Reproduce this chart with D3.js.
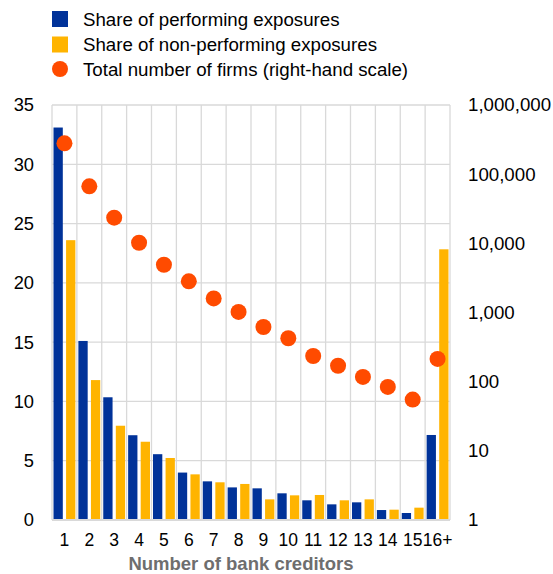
<!DOCTYPE html>
<html><head><meta charset="utf-8">
<script src="https://cdn.jsdelivr.net/npm/d3@7"></script>
<style>body{margin:0;background:#fff;font-family:Arial,"Liberation Sans",sans-serif;}</style>
</head><body>
<svg id="c" width="553" height="574"></svg>
<script>
const categories = ["1","2","3","4","5","6","7","8","9","10","11","12","13","14","15","16+"];
const performing = [33.1,15.1,10.35,7.15,5.55,4.0,3.26,2.75,2.67,2.25,1.66,1.32,1.49,0.84,0.59,7.17];
const nonPerforming = [23.6,11.8,7.95,6.6,5.23,3.85,3.18,3.04,1.74,2.08,2.11,1.66,1.74,0.87,1.04,22.83];
const firms = [279000,66700,23500,10200,4900,2820,1600,1020,617,424,235,170,117,84,55,213];
const leftTicks = [0,5,10,15,20,25,30,35];
const rightTicks = [1,10,100,1000,10000,100000,1000000];
const legendLabels = ["Share of performing exposures","Share of non-performing exposures","Total number of firms (right-hand scale)"];
const colors = {perf:"#003299", npe:"#ffb400", firms:"#ff4b00", grid:"#d9d9d9"};
const FONT = "Arial,'Liberation Sans',sans-serif";
const FS = 18.7;

const svg = d3.select("#c");
const L = 52, R = 450, T = 105, B = 520;
const x = d3.scaleBand().domain(categories).range([L, R]).paddingInner(0).paddingOuter(0);
const xs = d3.scaleBand().domain(["p","n"]).range([0, x.bandwidth()]).paddingInner(0.26).paddingOuter(0.12);
const y = d3.scaleLinear().domain([0,35]).range([B, T]);
const yr = d3.scaleLog().domain([1,1000000]).range([B, T]);

// grid
const g = svg.append("g");
g.selectAll(".hg").data(leftTicks).join("line")
  .attr("x1", L).attr("x2", R).attr("y1", d=>y(d)).attr("y2", d=>y(d))
  .attr("stroke", colors.grid).attr("stroke-width", 1.3);
const vb = categories.map(c=>x(c)).concat([R]);
g.selectAll(".vg").data(vb).join("line")
  .attr("x1", d=>d).attr("x2", d=>d).attr("y1", T).attr("y2", B)
  .attr("stroke", colors.grid).attr("stroke-width", 1.3);

// bars
const bars = svg.append("g");
bars.selectAll(".p").data(categories).join("rect")
  .attr("x", c=>x(c)+xs("p")).attr("width", xs.bandwidth())
  .attr("y", (c,i)=>y(performing[i])).attr("height", (c,i)=>B - y(performing[i]))
  .attr("fill", colors.perf);
bars.selectAll(".n").data(categories).join("rect")
  .attr("x", c=>x(c)+xs("n")).attr("width", xs.bandwidth())
  .attr("y", (c,i)=>y(nonPerforming[i])).attr("height", (c,i)=>B - y(nonPerforming[i]))
  .attr("fill", colors.npe);

// bottom axis line
svg.append("line").attr("x1",L).attr("x2",R).attr("y1",B).attr("y2",B).attr("stroke","#d9d9d9").attr("stroke-width",2);

// dots
svg.append("g").selectAll("circle").data(categories).join("circle")
  .attr("cx", c=>x(c)+x.bandwidth()/2).attr("cy", (c,i)=>yr(firms[i])).attr("r", 8)
  .attr("fill", colors.firms);

// left axis
const la = svg.append("g").attr("transform", `translate(${L},0)`)
  .call(d3.axisLeft(y).tickValues(leftTicks).tickSize(0).tickPadding(18));
la.select(".domain").remove();
la.selectAll("text").attr("font-size", 18.3).attr("font-family",FONT).attr("fill","#000");

// right axis
const ra = svg.append("g").attr("transform", `translate(${R},0)`)
  .call(d3.axisRight(yr).tickValues(rightTicks).tickFormat(d3.format(",")).tickSize(0).tickPadding(18));
ra.select(".domain").remove();
ra.selectAll("text").attr("font-size", FS).attr("font-family",FONT).attr("fill","#000");

// bottom axis
const ba = svg.append("g").attr("transform", `translate(0,${B})`)
  .call(d3.axisBottom(x).tickSize(0).tickPadding(14));
ba.select(".domain").remove();
ba.selectAll("text").attr("font-size", 17.5).attr("font-family",FONT).attr("fill","#000");

svg.append("text").attr("x", 241).attr("y", 570).attr("text-anchor","middle")
  .attr("font-size", 18.5).attr("font-weight","bold").attr("fill","#6e6e6e")
  .attr("font-family",FONT)
  .text("Number of bank creditors");

// legend
const leg = svg.append("g");
const ly = [19, 44.5, 69];
leg.append("rect").attr("x",52).attr("y",ly[0]-8).attr("width",16).attr("height",16).attr("fill",colors.perf);
leg.append("rect").attr("x",52).attr("y",ly[1]-8).attr("width",16).attr("height",16).attr("fill",colors.npe);
leg.append("circle").attr("cx",60).attr("cy",ly[2]).attr("r",8).attr("fill",colors.firms);
leg.selectAll("text").data(legendLabels).join("text")
  .attr("x",83).attr("y",(d,i)=>ly[i]).attr("dy","0.35em")
  .attr("font-size",FS).attr("font-family",FONT).attr("fill","#000")
  .text(d=>d);
</script>
</body></html>
